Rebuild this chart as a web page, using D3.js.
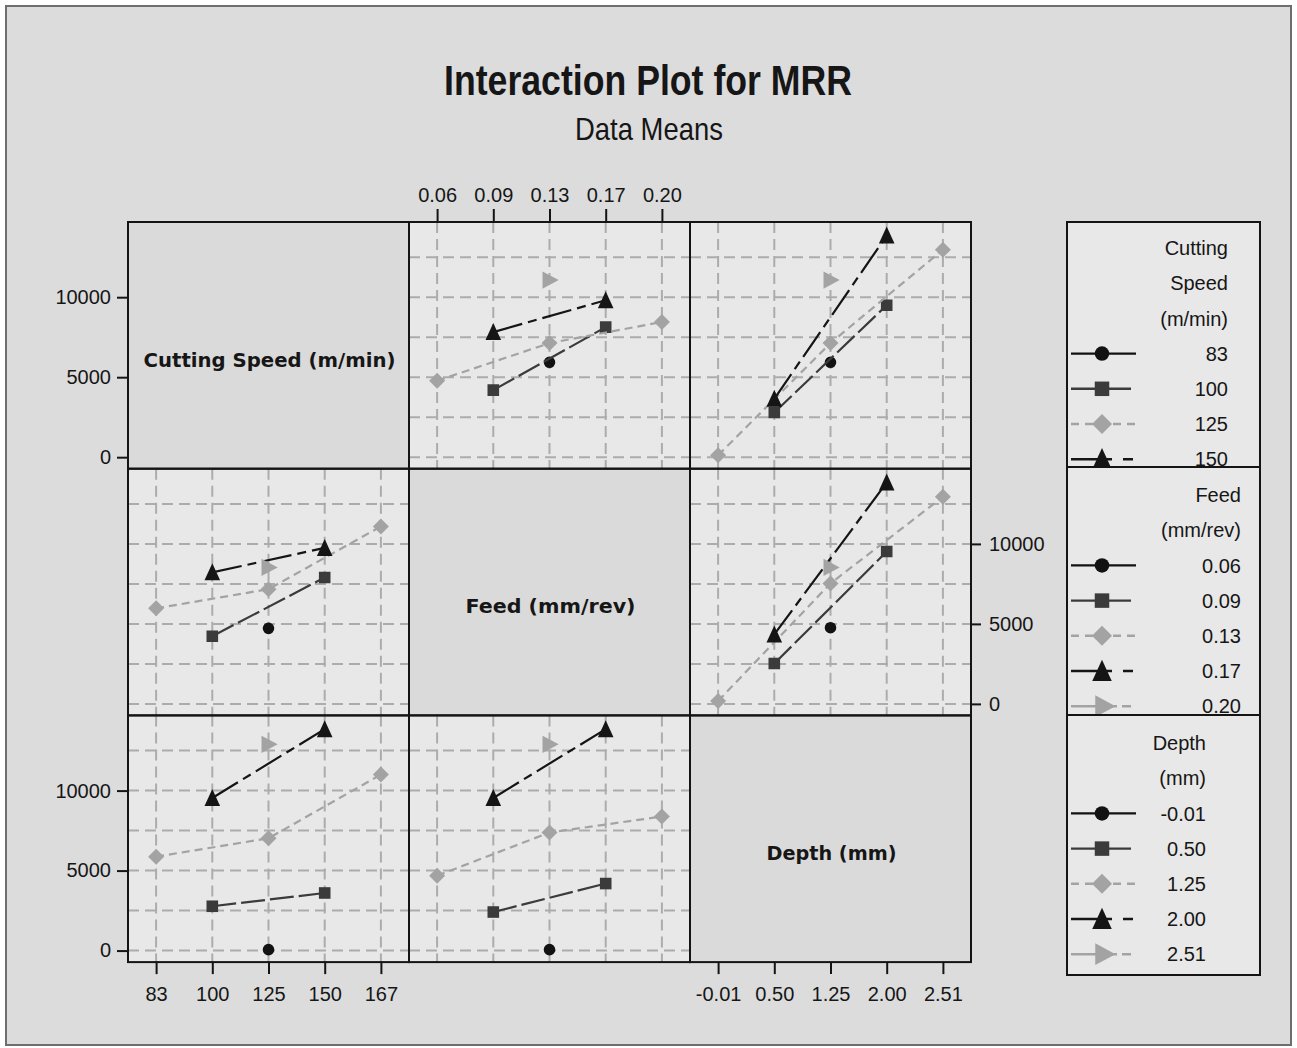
<!DOCTYPE html>
<html>
<head>
<meta charset="utf-8">
<script src="https://cdn.jsdelivr.net/npm/d3@7"></script>
<style>
  html, body { margin: 0; padding: 0; background: #ffffff; }
  svg { display: block; }
  text { font-family: "Liberation Sans", Arial, sans-serif; fill: #161616; }
</style>
</head>
<body>
<svg id="chart" width="1297" height="1048"></svg>
<script>
// ---- factor levels (tick labels) ----
const speedLevels = ["83", "100", "125", "150", "167"];
const feedLevels  = ["0.06", "0.09", "0.13", "0.17", "0.20"];
const depthLevels = ["-0.01", "0.50", "1.25", "2.00", "2.51"];

const factorLabels = ["Cutting Speed (m/min)", "Feed (mm/rev)", "Depth (mm)"];
const legendTitles = [["Cutting", "Speed", "(m/min)"], ["Feed", "(mm/rev)"], ["Depth", "(mm)"]];
const yTicks = [0, 5000, 10000];
const gridTicks = [0, 2500, 5000, 7500, 10000, 12500];

// ---- MRR data means: one row per trace level, one column per x level ----
// Cutting Speed traces against Feed
const speedByFeed = [
  [null, null, 5930, null, null],
  [null, 4190, null, 8130, null],
  [4780, null, 7130, null, 8450],
  [null, 7820, null, 9810, null],
  [null, null, 11070, null, null]
];
// Cutting Speed traces against Depth
const speedByDepth = [
  [null, null, 5930, null, null],
  [null, 2790, null, 9500, null],
  [120, null, 7130, null, 12970],
  [null, 3650, null, 13850, null],
  [null, null, 11070, null, null]
];
// Feed traces against Cutting Speed
const feedBySpeed = [
  [null, null, 4720, null, null],
  [null, 4230, null, 7900, null],
  [5970, null, 7170, null, 11090],
  [null, 8220, null, 9750, null],
  [null, null, 8530, null, null]
];
// Feed traces against Depth
const feedByDepth = [
  [null, null, 4760, null, null],
  [null, 2520, null, 9520, null],
  [180, null, 7530, null, 12940],
  [null, 4340, null, 13840, null],
  [null, null, 8530, null, null]
];
// Depth traces against Cutting Speed
const depthBySpeed = [
  [null, null, 60, null, null],
  [null, 2770, null, 3600, null],
  [5870, null, 7020, null, 11000],
  [null, 9540, null, 13840, null],
  [null, null, 12890, null, null]
];
// Depth traces against Feed
const depthByFeed = [
  [null, null, 60, null, null],
  [null, 2410, null, 4190, null],
  [4680, null, 7380, null, 8380],
  [null, 9540, null, 13840, null],
  [null, null, 12890, null, null]
];

// ---- layout ----
const svg = d3.select("#chart");
const L = 128, T = 222, W = 281, H = 246.7;
const levelSets = [speedLevels, feedLevels, depthLevels];
const panelData = [
  [null, speedByFeed, speedByDepth],
  [feedBySpeed, null, feedByDepth],
  [depthBySpeed, depthByFeed, null]
];

const xScales = levelSets.map((lv, j) =>
  d3.scalePoint().domain(lv).range([L + j * W, L + (j + 1) * W]).padding(0.5));
const yScales = [0, 1, 2].map(i =>
  d3.scaleLinear().domain([-720, 14700]).range([T + (i + 1) * H, T + i * H]));

// series appearance, by level index
const seriesColor = ["#121212", "#3b3b3b", "#a3a3a3", "#151515", "#a3a3a3"];
const seriesDash = [null, "24,5", "8,5", "30,6,9,6", "26,5,8,5"];
const legendDash = [null, null, "8,6", "41,11,10,40", "34,6,6,5,9,40"];

function markerPath(k, s) {
  const f = v => (v * s).toFixed(2);
  switch (k) {
    case 0: return d3.symbol(d3.symbolCircle, Math.PI * (5.8 * s) * (5.8 * s))();
    case 1: return `M${f(-5.8)},${f(-5.8)}H${f(5.8)}V${f(5.8)}H${f(-5.8)}Z`;
    case 2: return `M0,${f(-8)}L${f(8)},0L0,${f(8)}L${f(-8)},0Z`;
    case 3: return `M0,${f(-9)}L${f(7.8)},${f(8)}L${f(-7.8)},${f(8)}Z`;
    default: return `M${f(-7)},${f(-8.7)}L${f(9.2)},0L${f(-7)},${f(8.7)}Z`;
  }
}

// outer frame
svg.append("rect")
  .attr("x", 6).attr("y", 6).attr("width", 1285).attr("height", 1039)
  .attr("fill", "#dcdcdc").attr("stroke", "#6e6e6e").attr("stroke-width", 2);

// titles
svg.append("text")
  .attr("x", 648).attr("y", 95).attr("text-anchor", "middle")
  .style("font-size", "42px").style("font-weight", "bold")
  .attr("textLength", 408).attr("lengthAdjust", "spacingAndGlyphs")
  .text("Interaction Plot for MRR");
svg.append("text")
  .attr("x", 649).attr("y", 140).attr("text-anchor", "middle")
  .style("font-size", "32px")
  .attr("textLength", 148).attr("lengthAdjust", "spacingAndGlyphs")
  .text("Data Means");

const defs = svg.append("defs");

// ---- panels ----
for (let i = 0; i < 3; i++) {
  for (let j = 0; j < 3; j++) {
    const x0 = L + j * W, y0 = T + i * H;
    const g = svg.append("g");
    if (i === j) {
      g.append("rect").attr("x", x0).attr("y", y0).attr("width", W).attr("height", H)
        .attr("fill", "#dadada");
      const labelLen = [252, 170, 130][i];
      g.append("text")
        .attr("x", x0 + W / 2 + 1).attr("y", y0 + H / 2 + 14).attr("dy", "0.36em")
        .attr("text-anchor", "middle")
        .style("font-family", '"DejaVu Sans", Verdana, sans-serif')
        .style("font-weight", "bold").style("font-size", "20px")
        .attr("textLength", labelLen).attr("lengthAdjust", "spacingAndGlyphs")
        .text(factorLabels[i]);
      continue;
    }
    const clipId = `clip-${i}-${j}`;
    defs.append("clipPath").attr("id", clipId)
      .append("rect").attr("x", x0).attr("y", y0).attr("width", W).attr("height", H);
    g.attr("clip-path", `url(#${clipId})`);
    g.append("rect").attr("x", x0).attr("y", y0).attr("width", W).attr("height", H)
      .attr("fill", "#e8e8e8");

    const xs = xScales[j], ys = yScales[i];
    // dashed reference grid
    g.selectAll(".hgrid").data(gridTicks).enter().append("line")
      .attr("x1", x0).attr("x2", x0 + W)
      .attr("y1", d => ys(d)).attr("y2", d => ys(d))
      .attr("stroke", "#acacac").attr("stroke-width", 2).attr("stroke-dasharray", "11,6");
    g.selectAll(".vgrid").data(levelSets[j]).enter().append("line")
      .attr("x1", d => xs(d)).attr("x2", d => xs(d))
      .attr("y1", y0).attr("y2", y0 + H)
      .attr("stroke", "#acacac").attr("stroke-width", 2).attr("stroke-dasharray", "11,6");

    const table = panelData[i][j];
    const line = d3.line().x(d => xs(d.level)).y(d => ys(d.value));
    table.forEach((row, k) => {
      const pts = row.map((v, c) => ({ level: levelSets[j][c], value: v }))
        .filter(d => d.value !== null);
      if (pts.length > 1) {
        g.append("path").datum(pts).attr("d", line)
          .attr("fill", "none").attr("stroke", seriesColor[k]).attr("stroke-width", 2.2)
          .attr("stroke-dasharray", seriesDash[k]);
      }
      g.selectAll(null).data(pts).enter().append("path")
        .attr("d", markerPath(k, 1))
        .attr("transform", d => `translate(${xs(d.level)},${ys(d.value)})`)
        .attr("fill", seriesColor[k]);
    });
  }
}

// panel borders
for (let i = 0; i < 3; i++) {
  for (let j = 0; j < 3; j++) {
    svg.append("rect").attr("x", L + j * W).attr("y", T + i * H)
      .attr("width", W).attr("height", H)
      .attr("fill", "none").attr("stroke", "#141414").attr("stroke-width", 2);
  }
}

// ---- axes ----
function styleAxis(g) {
  g.select(".domain").remove();
  g.attr("font-family", null).attr("font-size", null);
  g.selectAll(".tick line").attr("stroke", "#141414").attr("stroke-width", 2);
  g.selectAll(".tick text").style("font-size", "20px").attr("fill", "#161616");
}
[0, 2].forEach(i => {
  svg.append("g").attr("transform", `translate(${L},0)`)
    .call(d3.axisLeft(yScales[i]).tickValues(yTicks).tickFormat(d3.format("d"))
      .tickSize(11).tickSizeOuter(0).tickPadding(6))
    .call(styleAxis);
});
svg.append("g").attr("transform", `translate(${L + 3 * W},0)`)
  .call(d3.axisRight(yScales[1]).tickValues(yTicks).tickFormat(d3.format("d"))
    .tickSize(10).tickSizeOuter(0).tickPadding(8))
  .call(styleAxis);
svg.append("g").attr("transform", `translate(0,${T})`)
  .call(d3.axisTop(xScales[1]).tickSize(13).tickSizeOuter(0).tickPadding(7))
  .call(styleAxis);
[0, 2].forEach(j => {
  svg.append("g").attr("transform", `translate(0,${T + 3 * H})`)
    .call(d3.axisBottom(xScales[j]).tickSize(12).tickSizeOuter(0).tickPadding(13))
    .call(styleAxis);
});

// ---- legends (entries that fall past a box's bottom edge are cut off) ----
const legendX0 = 1067, legendX1 = 1260;
const legendSpans = [[222, 467], [467, 715], [715, 975]];
const legendTextX = [1228, 1241, 1206];
const legendTitleOffset = [26, 28, 28];
const rowGap = 35.2;
legendSpans.forEach(([ly0, ly1], b) => {
  const clipId = `legend-clip-${b}`;
  defs.append("clipPath").attr("id", clipId)
    .append("rect").attr("x", legendX0).attr("y", ly0).attr("width", legendX1 - legendX0).attr("height", ly1 - ly0);
  const g = svg.append("g").attr("clip-path", `url(#${clipId})`);
  g.append("rect").attr("x", legendX0).attr("y", ly0)
    .attr("width", legendX1 - legendX0).attr("height", ly1 - ly0).attr("fill", "#e8e8e8");
  const titleY0 = ly0 + legendTitleOffset[b];
  legendTitles[b].forEach((t, r) => {
    g.append("text").attr("x", legendTextX[b]).attr("y", titleY0 + r * rowGap)
      .attr("dy", "0.36em").attr("text-anchor", "end").style("font-size", "20px").text(t);
  });
  const itemY0 = titleY0 + legendTitles[b].length * rowGap;
  levelSets[b].forEach((lv, k) => {
    const yy = itemY0 + k * rowGap;
    if (yy - 10 > ly1) return; // entry lies wholly below the box
    g.append("line").attr("x1", 1071).attr("x2", k === 1 ? 1131 : 1136)
      .attr("y1", yy).attr("y2", yy)
      .attr("stroke", seriesColor[k]).attr("stroke-width", 2.4)
      .attr("stroke-dasharray", legendDash[k]);
    g.append("path").attr("d", markerPath(k, 1.25))
      .attr("transform", `translate(${k === 4 ? 1104 : 1102},${yy})`)
      .attr("fill", seriesColor[k]);
    g.append("text").attr("x", legendTextX[b]).attr("y", yy).attr("dy", "0.36em")
      .attr("text-anchor", "end").style("font-size", "20px").text(lv);
  });
  svg.append("rect").attr("x", legendX0).attr("y", ly0)
    .attr("width", legendX1 - legendX0).attr("height", ly1 - ly0)
    .attr("fill", "none").attr("stroke", "#141414").attr("stroke-width", 2);
});
</script>
</body>
</html>
